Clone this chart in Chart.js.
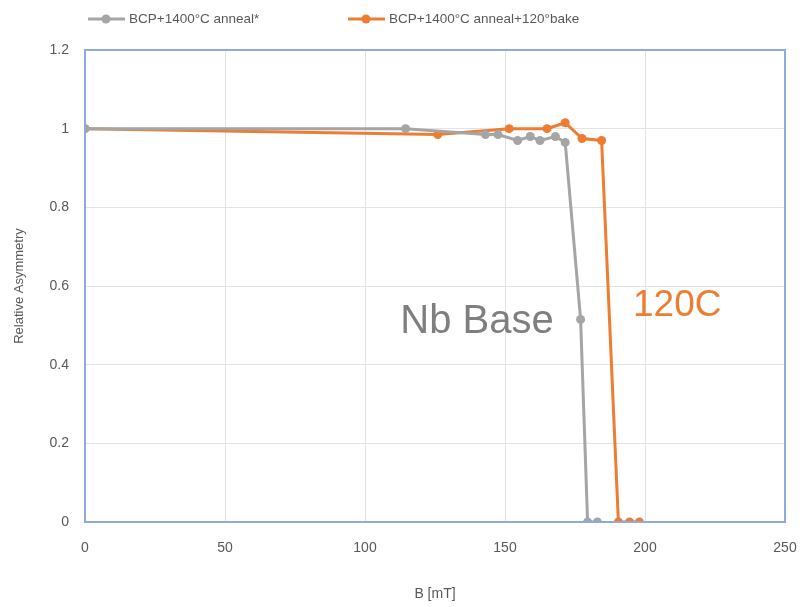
<!DOCTYPE html>
<html>
<head>
<meta charset="utf-8">
<script src="https://cdn.jsdelivr.net/npm/chart.js@4"></script>
<style>
  html, body { margin: 0; padding: 0; background: #fff; }
  #wrap { width: 800px; height: 607px; }
</style>
</head>
<body>
<div id="wrap"><canvas id="asymChart" width="800" height="607"></canvas></div>
<script>
// Datos
const baseLabel = 'BCP+1400\u00b0C anneal*';
const baseB = [0, 114.5, 143, 147.5, 154.5, 159, 162.5, 168, 171.5, 177, 179.5, 183];
const baseAsym = [1.0, 1.0, 0.985, 0.985, 0.97, 0.98, 0.97, 0.98, 0.965, 0.515, 0, 0];

const bakeLabel = 'BCP+1400\u00b0C anneal+120\u00b0bake';
const bakeB = [0, 126, 151.5, 165, 171.5, 177.5, 184.5, 190.5, 194.5, 198];
const bakeAsym = [1.0, 0.985, 1.0, 1.0, 1.015, 0.975, 0.97, 0, 0, 0];

const xTicks = [0, 50, 100, 150, 200, 250];
const yTicks = [0, 0.2, 0.4, 0.6, 0.8, 1, 1.2];

const GRAY = '#a5a5a5';
const ORANGE = '#ed7d31';
const TXT = '#595959';
const FONT = "'Liberation Sans', Arial, sans-serif";

function pts(xs, ys) {
    return xs.map((x, i) => ({ x: x, y: ys[i] }));
}

// borde azul, leyenda y textos
const extras = {
    id: 'extras',
    afterDraw(chart) {
        const ctx = chart.ctx;
        const a = chart.chartArea;
        ctx.save();
        ctx.strokeStyle = '#8faadc';
        ctx.lineWidth = 2;
        ctx.strokeRect(a.left, a.top, a.right - a.left, a.bottom - a.top);

        // leyenda
        const items = [
            { x: 88, label: baseLabel, color: GRAY },
            { x: 348, label: bakeLabel, color: ORANGE }
        ];
        ctx.font = '13.5px ' + FONT;
        ctx.textBaseline = 'middle';
        items.forEach(it => {
            const y = 19;
            ctx.strokeStyle = it.color;
            ctx.lineWidth = 3;
            ctx.beginPath();
            ctx.moveTo(it.x, y);
            ctx.lineTo(it.x + 37, y);
            ctx.stroke();
            ctx.fillStyle = it.color;
            ctx.beginPath();
            ctx.arc(it.x + 18, y, 4.5, 0, Math.PI * 2);
            ctx.fill();
            ctx.fillStyle = TXT;
            ctx.textAlign = 'left';
            ctx.fillText(it.label, it.x + 41, y);
        });

        // anotaciones
        const xs = chart.scales.x, ys = chart.scales.y;
        ctx.textBaseline = 'alphabetic';
        ctx.textAlign = 'center';
        ctx.font = '40px ' + FONT;
        ctx.fillStyle = '#7f7f7f';
        ctx.fillText('Nb Base', xs.getPixelForValue(140), ys.getPixelForValue(0.48));
        ctx.font = '37px ' + FONT;
        ctx.fillStyle = ORANGE;
        ctx.fillText('120C', xs.getPixelForValue(211.5), ys.getPixelForValue(0.525));
        ctx.restore();
    }
};

const config = {
    type: 'scatter',
    data: {
        datasets: [{
            label: baseLabel,
            data: pts(baseB, baseAsym),
            showLine: true,
            borderColor: GRAY,
            backgroundColor: GRAY,
            borderWidth: 3,
            pointRadius: 4.5,
            pointBorderWidth: 0
        }, {
            label: bakeLabel,
            data: pts(bakeB, bakeAsym),
            showLine: true,
            borderColor: ORANGE,
            backgroundColor: ORANGE,
            borderWidth: 3,
            pointRadius: 4.5,
            pointBorderWidth: 0
        }]
    },
    options: {
        responsive: false,
        animation: false,
        layout: { padding: { top: 50, right: 15, left: 8, bottom: 0 } },
        scales: {
            x: {
                type: 'linear',
                min: 0,
                max: 250,
                afterBuildTicks: s => { s.ticks = xTicks.map(v => ({ value: v })); },
                afterFit: s => { s.height = 85; s.paddingRight = 0; s.paddingLeft = 0; },
                grid: { color: '#e3e3e3', lineWidth: 1, drawTicks: false },
                border: { display: false },
                ticks: { color: TXT, font: { size: 14, family: FONT }, padding: 18 },
                title: { display: true, text: 'B [mT]', color: TXT, font: { size: 14, family: FONT }, padding: { top: 18 } }
            },
            y: {
                min: 0,
                max: 1.2,
                afterBuildTicks: s => { s.ticks = yTicks.map(v => ({ value: v })); },
                afterFit: s => { s.width = 77; s.paddingTop = 0; s.paddingBottom = 0; },
                grid: { color: '#e3e3e3', lineWidth: 1, drawTicks: false },
                border: { display: false },
                ticks: { color: TXT, font: { size: 14, family: FONT }, padding: 16, callback: v => String(v) },
                title: { display: true, text: 'Relative Asymmetry', color: TXT, font: { size: 13, family: FONT }, padding: { bottom: 8 } }
            }
        },
        plugins: {
            legend: { display: false },
            tooltip: { enabled: false }
        }
    },
    plugins: [extras]
};

const ctx = document.getElementById('asymChart').getContext('2d');
const asymChart = new Chart(ctx, config);
</script>
</body>
</html>
